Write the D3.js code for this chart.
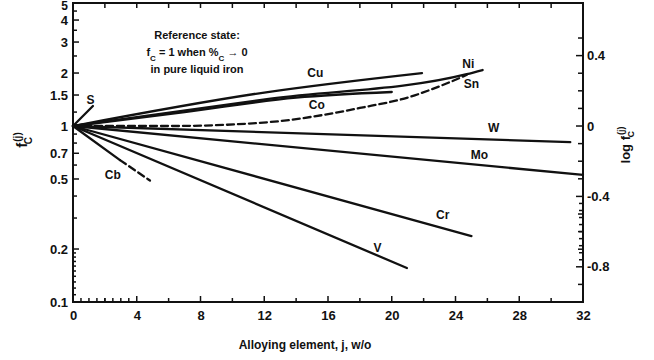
<!DOCTYPE html>
<html>
<head>
  <meta charset="utf-8">
  <script src="https://d3js.org/d3.v7.min.js"></script>
  <style>
    body { margin: 0; background: #fff; }
    svg { display: block; }
    text { font-family: "Liberation Sans", Arial, sans-serif; font-weight: bold; fill: #111; }
    .curve-label { font-size: 12px; }
  </style>
</head>
<body>
<div id="chart"></div>
<script>
  // x ticks and y ticks
  var xTicks = [0, 4, 8, 12, 16, 20, 24, 28, 32];
  var yTicks = [0.1, 0.2, 0.5, 0.7, 1, 1.5, 2, 3, 4, 5];
  var yTickLabels = ["0.1", "0.2", "0.5", "0.7", "1", "1.5", "2", "3", "4", "5"];
  var yMinor = [0.3, 0.4, 0.6, 0.8, 0.9, 1.2, 2.5, 3.5, 4.5];
  var yFine = [0.11, 0.12, 0.13, 0.14, 0.15, 0.16, 0.17, 0.18, 0.19];
  var logTicks = [0.4, 0, -0.4, -0.8];
  var logTickLabels = ["0.4", "0", "-0.4", "-0.8"];

  // curves: [w/o j, f_C]
  var Cu = [[0, 1], [12, 1.55], [21.9, 2.0]];
  var Co = [[0, 1], [7, 1.2], [14, 1.45], [20, 1.56]];
  var Ni = [[0, 1], [12.4, 1.43], [24.7, 1.97], [25.7, 2.08]];
  var Sn = [[0, 1], [6.1, 1.0], [12.4, 1.054], [14.9, 1.125], [18, 1.266], [21.1, 1.46], [23.2, 1.71], [24.7, 1.95]];
  var S  = [[0, 1], [1.25, 1.3]];
  var W  = [[0, 1], [31.2, 0.81]];
  var Mo = [[0, 1], [32, 0.527]];
  var Cr = [[0, 1], [25, 0.237]];
  var V  = [[0, 1], [20.95, 0.156]];
  var CbSolid = [[0, 1], [2.95, 0.64]];
  var CbDash = [[2.95, 0.64], [4.83, 0.49]];

  var series = [
    { name: "Cu", pts: Cu, dash: false },
    { name: "Co", pts: Co, dash: false },
    { name: "Ni", pts: Ni, dash: false },
    { name: "Sn", pts: Sn, dash: true },
    { name: "S", pts: S, dash: false },
    { name: "W", pts: W, dash: false },
    { name: "Mo", pts: Mo, dash: false },
    { name: "Cr", pts: Cr, dash: false },
    { name: "V", pts: V, dash: false },
    { name: "Cb", pts: CbSolid, dash: false },
    { name: "Cb2", pts: CbDash, dash: true }
  ];

  // label anchors in data units
  var labelNames = ["S", "Cu", "Co", "Ni", "Sn", "W", "Mo", "Cr", "V", "Cb"];
  var labelAt = [[1.1, 1.39], [15.2, 1.99], [15.3, 1.3], [24.8, 2.23], [25.0, 1.72], [26.4, 0.97], [25.5, 0.68], [23.2, 0.31], [19.1, 0.2], [2.5, 0.52]];

  var width = 654, height = 360;
  var svg = d3.select("#chart").append("svg").attr("width", width).attr("height", height);

  var x = d3.scaleLinear().domain([0, 32]).range([73, 583]);
  var y = d3.scaleLog().domain([0.1, 5]).range([302, 3]);
  var yR = d3.scaleLinear().domain([-1, Math.log10(5)]).range([302, 3]);

  // frame
  svg.append("rect")
    .attr("x", x(0)).attr("y", y(5))
    .attr("width", x(32) - x(0)).attr("height", y(0.1) - y(5))
    .attr("fill", "none").attr("stroke", "#111").attr("stroke-width", 2);

  // bottom axis
  var bottom = svg.append("g").attr("transform", "translate(0," + y(0.1) + ")")
    .call(d3.axisBottom(x).tickValues(xTicks).tickSize(0).tickPadding(9).tickFormat(d3.format("d")));
  bottom.select(".domain").remove();
  bottom.selectAll("text").style("font-size", "13px").style("font-family", null);

  var g = svg.append("g").attr("stroke", "#111").attr("stroke-width", 1.5);
  // bottom ticks (inside)
  d3.range(0, 33, 2).forEach(function (v) {
    var len = v % 4 === 0 ? 6 : 4;
    g.append("line").attr("x1", x(v)).attr("x2", x(v)).attr("y1", y(0.1)).attr("y2", y(0.1) - len);
  });
  d3.range(0.5, 4, 0.5).forEach(function (v) {
    g.append("line").attr("x1", x(v)).attr("x2", x(v)).attr("y1", y(0.1)).attr("y2", y(0.1) - 4);
  });
  // top ticks
  d3.range(2, 32, 2).forEach(function (v) {
    g.append("line").attr("x1", x(v)).attr("x2", x(v)).attr("y1", y(5)).attr("y2", y(5) + 5);
  });

  // left axis
  var left = svg.append("g").attr("transform", "translate(" + x(0) + ",0)")
    .call(d3.axisLeft(y).tickValues(yTicks).tickSize(0).tickPadding(5)
      .tickFormat(function (d, i) { return yTickLabels[i]; }));
  left.select(".domain").remove();
  left.selectAll("text").style("font-family", null)
    .style("font-size", function (d) { return d === 5 ? "12px" : "13px"; })
    .attr("dy", function (d) { return d === 5 ? "0.5em" : "0.32em"; });
  yTicks.forEach(function (v) {
    g.append("line").attr("x1", x(0)).attr("x2", x(0) + 6).attr("y1", y(v)).attr("y2", y(v));
  });
  yMinor.forEach(function (v) {
    g.append("line").attr("x1", x(0)).attr("x2", x(0) + 4).attr("y1", y(v)).attr("y2", y(v));
  });
  yFine.forEach(function (v) {
    g.append("line").attr("x1", x(0)).attr("x2", x(0) + 3).attr("y1", y(v)).attr("y2", y(v));
  });

  // right axis (log f)
  var right = svg.append("g").attr("transform", "translate(" + x(32) + ",0)")
    .call(d3.axisRight(yR).tickValues(logTicks).tickSize(0).tickPadding(4)
      .tickFormat(function (d, i) { return logTickLabels[i]; }));
  right.select(".domain").remove();
  right.selectAll("text").style("font-size", "13px").style("font-family", null);
  d3.range(-9, 6, 1).forEach(function (k) {
    var v = k / 10;
    var len = (k % 4 === 0) ? 7 : 5;
    g.append("line").attr("x1", x(32)).attr("x2", x(32) - len).attr("y1", yR(v)).attr("y2", yR(v));
  });
  d3.range(-0.76, -0.41, 0.04).forEach(function (v) {
    g.append("line").attr("x1", x(32)).attr("x2", x(32) - 4).attr("y1", yR(v)).attr("y2", yR(v));
  });

  // curves
  var line = d3.line()
    .x(function (d) { return x(d[0]); })
    .y(function (d) { return y(d[1]); })
    .curve(d3.curveMonotoneX);

  svg.append("g").selectAll("path").data(series).enter().append("path")
    .attr("d", function (d) { return line(d.pts); })
    .attr("fill", "none")
    .attr("stroke", "#111")
    .attr("stroke-width", 2.3)
    .attr("stroke-linecap", "round")
    .attr("stroke-dasharray", function (d) { return d.dash ? "7,4" : null; });

  svg.append("g").selectAll("text").data(labelNames).enter().append("text")
    .attr("class", "curve-label")
    .attr("x", function (d, i) { return x(labelAt[i][0]); })
    .attr("y", function (d, i) { return y(labelAt[i][1]); })
    .attr("text-anchor", "middle")
    .attr("dominant-baseline", "middle")
    .text(function (d) { return d; });

  // reference state note
  var note = svg.append("text").attr("text-anchor", "middle").style("font-size", "11px");
  note.append("tspan").attr("x", 197).attr("y", 39).text("Reference state:");
  var l2 = note.append("tspan").attr("x", 197).attr("y", 56);
  l2.append("tspan").text("f");
  l2.append("tspan").attr("baseline-shift", "sub").style("font-size", "8px").text("C");
  l2.append("tspan").text(" = 1 when %");
  l2.append("tspan").attr("baseline-shift", "sub").style("font-size", "8px").text("C");
  l2.append("tspan").text(" \u2192 0");
  note.append("tspan").attr("x", 197).attr("y", 73).text("in pure liquid iron");

  // axis titles
  svg.append("text").attr("x", 305).attr("y", 349).attr("text-anchor", "middle")
    .style("font-size", "12px").text("Alloying element, j, w/o");

  var lt = svg.append("text").attr("transform", "translate(27,140) rotate(-90)")
    .attr("text-anchor", "middle").style("font-size", "15px");
  lt.append("tspan").text("f");
  lt.append("tspan").attr("dx", 1).attr("dy", -6).style("font-size", "10px").text("(j)");
  lt.append("tspan").attr("dx", -12).attr("dy", 11).style("font-size", "10px").text("C");

  var rt = svg.append("text").attr("transform", "translate(630,145) rotate(-90)")
    .attr("text-anchor", "middle").style("font-size", "13px");
  rt.append("tspan").text("log f");
  rt.append("tspan").attr("dx", 1).attr("dy", -6).style("font-size", "9px").text("(j)");
  rt.append("tspan").attr("dx", -11).attr("dy", 10).style("font-size", "9px").text("C");
</script>
</body>
</html>
